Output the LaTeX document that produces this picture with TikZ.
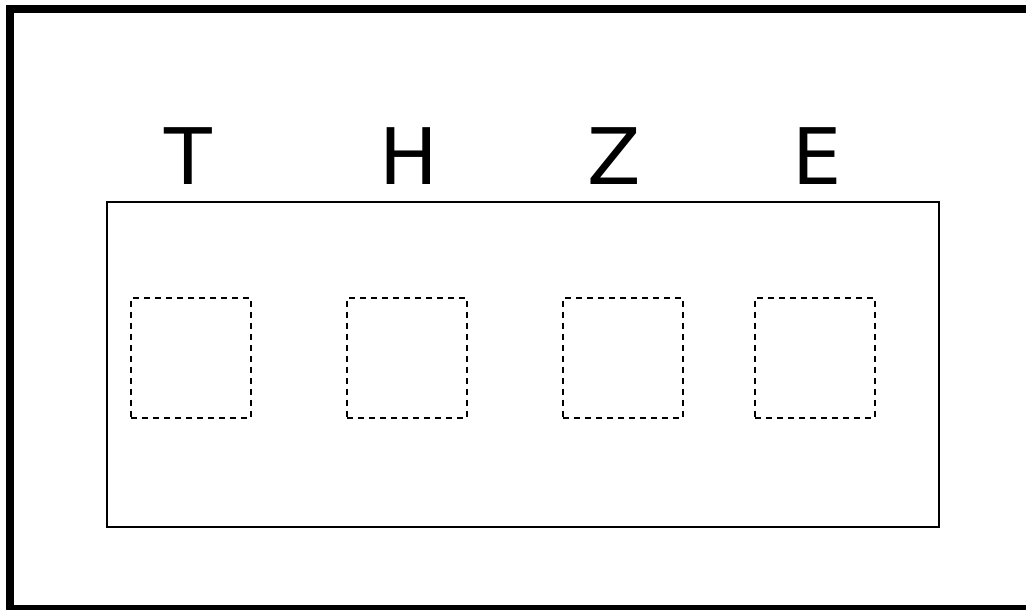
\documentclass[tikz,border=0pt]{standalone}
\usepackage{fontspec}
\setmainfont{DejaVu Sans}
\usepackage{tikz}
\usetikzlibrary{positioning}

\begin{document}
\begin{tikzpicture}[x=1pt,y=-1pt,
      frame/.style={draw,line width=8pt},
      panel/.style={draw,line width=1.6pt,minimum width=832pt,minimum height=325pt,
                    inner sep=0pt,anchor=north west},
      slot/.style={draw,line width=1.6pt,dash pattern=on 6pt off 5pt,
                   minimum size=120pt,inner sep=0pt,anchor=north west},
      letter/.style={font=\fontsize{78}{80}\selectfont,inner sep=0pt,anchor=base},
  ]
  \useasboundingbox (0,0) rectangle (1026,610);
  \clip (0,0) rectangle (1026,610);

  %--- outer frame (right side runs off the page) ---
  \draw[frame] (10,9) rectangle (1040,609);

  %--- panel with the four slots ---
  \node[panel] (P) at (106,201) {};
  \node[slot] (sT) at (130,297) {};
  \node[slot] (sH) at (346,297) {};
  \node[slot] (sZ) at (562,297) {};
  \node[slot] (sE) at (754,297) {};

  % labels
  \node[letter] (lT) at (188,184) {T};
  \node[letter] (lH) at (409,184) {H};
  \node[letter] (lZ) at (614,184) {Z};
  \node[letter] (lE) at (817,184) {E};
\end{tikzpicture}
\end{document}
